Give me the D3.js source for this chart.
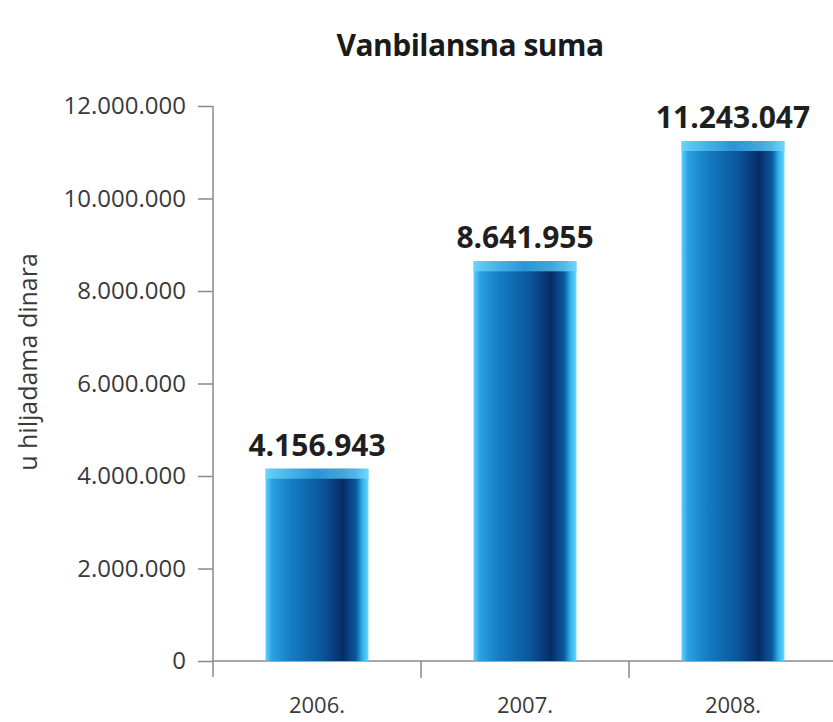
<!DOCTYPE html>
<html>
<head>
<meta charset="utf-8">
<script src="https://cdn.jsdelivr.net/npm/d3@7"></script>
<style>
    body { margin: 0; background: #fff; }
    svg text { font-family: "Open Sans", sans-serif; }
</style>
</head>
<body>
<div id="chart"><svg width="833" height="722"></svg></div>
<script>
const years = ["2006.", "2007.", "2008."];
const values = [4156943, 8641955, 11243047];
const valueLabels = ["4.156.943", "8.641.955", "11.243.047"];
const yTicks = [0, 2000000, 4000000, 6000000, 8000000, 10000000, 12000000];
const yTickLabels = ["0", "2.000.000", "4.000.000", "6.000.000", "8.000.000", "10.000.000", "12.000.000"];

const svg = d3.select("#chart svg");
const axisColor = "#8a8a8a";

// scales
const xScale = d3.scaleBand()
    .domain(years)
    .range([213, 837])
    .padding(0);
const yScale = d3.scaleLinear()
    .domain([0, 12000000])
    .range([661, 106]);

// gradient for the bars
const defs = svg.append("defs");
const grad = defs.append("linearGradient")
    .attr("id", "barGrad")
    .attr("x1", "0%").attr("x2", "100%").attr("y1", "0%").attr("y2", "0%");
[
    [0, "#5fd0f7"], [0.06, "#2aa3e2"], [0.25, "#157cc2"], [0.55, "#0a559c"],
    [0.75, "#062c66"], [0.88, "#0c58a0"], [0.94, "#2bb0ea"], [1, "#6fd6f8"]
].forEach(function(s) {
    grad.append("stop").attr("offset", s[0]).attr("stop-color", s[1]);
});
const capGrad = defs.append("linearGradient")
    .attr("id", "capGrad")
    .attr("x1", "0%").attr("x2", "100%");
[[0, "#6fd6f8"], [0.5, "#2f9fe0"], [1, "#6fd6f8"]].forEach(function(s) {
    capGrad.append("stop").attr("offset", s[0]).attr("stop-color", s[1]);
});

// title
svg.append("text")
    .attr("x", 470)
    .attr("y", 56)
    .attr("text-anchor", "middle")
    .style("font-size", "30px")
    .style("font-weight", "bold")
    .style("letter-spacing", "-0.5px")
    .style("fill", "#1a1a1a")
    .text("Vanbilansna suma");

// y axis
const yAxis = svg.append("g")
    .attr("class", "y axis")
    .attr("transform", "translate(213, 0)")
    .call(d3.axisLeft(yScale)
        .tickValues(yTicks)
        .tickFormat(function(d, i) { return yTickLabels[i]; })
        .tickSize(15)
        .tickPadding(12));
yAxis.select(".domain").remove();
yAxis.append("line")
    .attr("x1", 0).attr("x2", 0)
    .attr("y1", yScale(12000000)).attr("y2", yScale(0) + 16)
    .attr("stroke", axisColor).attr("stroke-width", 1.5);
yAxis.selectAll(".tick line").attr("stroke", axisColor).attr("stroke-width", 1.5);
yAxis.selectAll(".tick text")
    .style("font-size", "24px")
    .style("fill", "#3a3a3a")
    .style("font-family", "'Open Sans', sans-serif");

// x axis
const xAxis = svg.append("g")
    .attr("class", "x axis")
    .attr("transform", "translate(0, " + yScale(0) + ")");
xAxis.append("line")
    .attr("x1", 213).attr("x2", 833)
    .attr("y1", 0).attr("y2", 0)
    .attr("stroke", axisColor).attr("stroke-width", 1.5);
xAxis.selectAll(".sep")
    .data(years.slice(1))
    .enter()
    .append("line")
    .attr("x1", function(d) { return xScale(d); })
    .attr("x2", function(d) { return xScale(d); })
    .attr("y1", 0).attr("y2", 17)
    .attr("stroke", axisColor).attr("stroke-width", 1.5);
xAxis.selectAll(".lbl")
    .data(years)
    .enter()
    .append("text")
    .attr("x", function(d) { return xScale(d) + xScale.bandwidth() / 2; })
    .attr("y", 52)
    .attr("text-anchor", "middle")
    .style("font-size", "22px")
    .style("fill", "#3a3a3a")
    .text(function(d) { return d; });

// y axis title
svg.append("text")
    .attr("transform", "translate(37, 362) rotate(-90)")
    .attr("text-anchor", "middle")
    .style("font-size", "25px")
    .style("fill", "#3a3a3a")
    .text("u hiljadama dinara");

// bars
const barW = xScale.bandwidth() * 0.495;
const bars = svg.selectAll(".bar")
    .data(values)
    .enter()
    .append("g")
    .attr("class", "bar");
bars.append("rect")
    .attr("x", function(d, i) { return xScale(years[i]) + (xScale.bandwidth() - barW) / 2; })
    .attr("y", function(d) { return yScale(d); })
    .attr("width", barW)
    .attr("height", function(d) { return yScale(0) - yScale(d); })
    .attr("fill", "url(#barGrad)");
bars.append("rect")
    .attr("x", function(d, i) { return xScale(years[i]) + (xScale.bandwidth() - barW) / 2; })
    .attr("y", function(d) { return yScale(d); })
    .attr("width", barW)
    .attr("height", 10)
    .attr("fill", "url(#capGrad)")
    .attr("opacity", 0.85);

// value labels
svg.selectAll(".val")
    .data(values)
    .enter()
    .append("text")
    .attr("x", function(d, i) { return xScale(years[i]) + xScale.bandwidth() / 2; })
    .attr("y", function(d) { return yScale(d) - 13; })
    .attr("text-anchor", "middle")
    .style("font-size", "30px")
    .style("font-weight", "bold")
    .style("fill", "#1f1f1f")
    .text(function(d, i) { return valueLabels[i]; });
</script>
</body>
</html>
